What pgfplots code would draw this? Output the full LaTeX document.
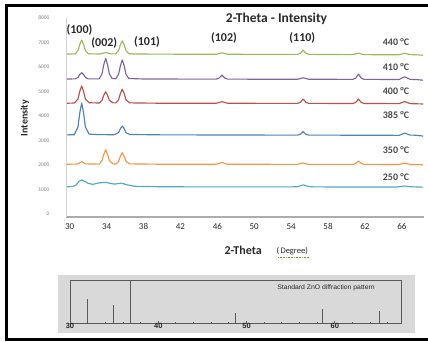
\documentclass[border=0pt]{standalone}
\usepackage{pgfplots}
\pgfplotsset{compat=1.18}
\usepackage{fontspec}
\setmainfont{Carlito}
\newfontfamily\arialf{Liberation Sans}
\definecolor{cTeal}{HTML}{4BACC6}
\definecolor{cOrange}{HTML}{F79646}
\definecolor{cBlue}{HTML}{4F81BD}
\definecolor{cRed}{HTML}{C0504D}
\definecolor{cPurple}{HTML}{8064A2}
\definecolor{cGreen}{HTML}{9BBB59}
\definecolor{insetbg}{HTML}{D9D9D9}
\definecolor{insetln}{HTML}{5A5A5A}
\definecolor{txt}{HTML}{2A2A2A}
\begin{document}
\begin{tikzpicture}
\useasboundingbox (0pt,0pt) rectangle (428pt,-341pt);
\fill[white] (0pt,0pt) rectangle (428pt,-341pt);
% main XRD axis
\begin{axis}[at={(66pt,-216.9pt)}, anchor=south west, scale only axis,
  width=358pt, height=198.9pt,
  xmin=29.6, xmax=68.4, ymin=-120, ymax=8000,
  axis x line*=bottom, axis y line*=left,
  x axis line style={-, draw=gray!65, line width=1.6pt},
  y axis line style={-, draw=gray!35, line width=0.6pt},
  xtick={30,34,...,66}, ytick={0,1000,...,8000},
  major tick length=0pt,
  /pgf/number format/assume math mode=true,
  /pgf/number format/1000 sep={},
  xticklabel style={font=\fontsize{9}{10}\selectfont, text=txt, yshift=-3pt},
  yticklabel style={font=\fontsize{5.5}{6}\selectfont, text=gray, xshift=-13pt},
  clip=false,
  every axis plot/.append style={line width=1.15pt, no marks, line join=round}]
% 250 C
\addplot[cTeal] coordinates {(29.7,1110)(30.3,1120)(30.7,1180)(31.0,1330)(31.3,1390)(31.6,1340)(32.0,1250)(32.5,1210)(33.2,1270)(33.9,1290)(34.5,1240)(34.9,1220)(35.6,1260)(36.2,1190)(37.0,1130)(40,1110)(46,1105)(54,1105)(54.7,1115)(55.3,1190)(55.9,1120)(56.5,1105)(62,1100)(65.5,1100)(66.3,1140)(67,1110)(68.3,1095)};
% 350 C
\addplot[cOrange] coordinates {(29.7,2030)(30.6,2035)(30.9,2045)(31.3,2135)(31.7,2045)(33.2,2035)(33.5,2177)(33.7,2443)(33.9,2620)(34.1,2443)(34.3,2177)(34.7,2045)(35.0,2040)(35.3,2147)(35.5,2360)(35.7,2500)(35.9,2360)(36.1,2147)(36.5,2045)(40,2030)(45,2030)(45.9,2030)(46.5,2100)(47.1,2030)(54,2025)(54.7,2025)(55.3,2080)(55.9,2025)(60.5,2025)(60.7,2025)(61.0,2060)(61.3,2160)(61.6,2060)(61.9,2025)(65.5,2020)(65.7,2020)(66.3,2075)(66.9,2020)(68.3,2010)};
% 385 C
\addplot[cBlue] coordinates {(29.7,3230)(30.5,3235)(30.9,3555)(31.1,4140)(31.3,4530)(31.5,4140)(31.7,3555)(32.1,3260)(33.0,3240)(34.8,3235)(35.3,3320)(35.5,3482)(35.7,3590)(35.9,3482)(36.1,3320)(36.5,3245)(40,3230)(46,3225)(52,3220)(54.7,3220)(55.0,3255)(55.3,3360)(55.6,3255)(55.9,3220)(61,3215)(65.5,3210)(65.7,3210)(66.3,3300)(66.9,3220)(67.5,3215)(68.3,3180)};
% 400 C
\addplot[cRed] coordinates {(29.7,4520)(30.5,4530)(30.9,4696)(31.1,5014)(31.3,5225)(31.5,5014)(31.7,4696)(32.1,4540)(33.2,4530)(33.5,4637)(33.7,4850)(33.9,4990)(34.1,4850)(34.3,4637)(34.7,4535)(35.0,4535)(35.3,4662)(35.5,4920)(35.7,5090)(35.9,4920)(36.1,4662)(36.5,4535)(40,4520)(44,4520)(45.9,4520)(46.5,4585)(47.1,4520)(52,4515)(54.7,4515)(55.0,4560)(55.3,4690)(55.6,4560)(55.9,4515)(60.5,4510)(60.7,4510)(61.0,4555)(61.3,4690)(61.6,4555)(61.9,4510)(65.5,4505)(65.7,4505)(66.3,4590)(66.9,4505)(68.3,4490)};
% 410 C
\addplot[cPurple] coordinates {(29.7,5510)(30.6,5515)(30.9,5575)(31.1,5690)(31.3,5770)(31.5,5690)(31.7,5575)(32.0,5515)(33.2,5515)(33.5,5720)(33.7,6100)(33.9,6350)(34.1,6100)(34.3,5720)(34.6,5530)(35.0,5520)(35.3,5705)(35.5,6055)(35.7,6290)(35.9,6055)(36.1,5705)(36.4,5530)(38,5510)(44,5505)(45.9,5505)(46.2,5550)(46.5,5670)(46.8,5550)(47.1,5505)(52,5500)(54.7,5500)(55.3,5560)(55.9,5500)(60.5,5495)(60.7,5495)(61.0,5550)(61.3,5710)(61.6,5550)(61.9,5495)(65.5,5490)(65.7,5490)(66.3,5600)(66.9,5495)(67.5,5490)(68.3,5460)};
% 440 C
\addplot[cGreen] coordinates {(29.7,6530)(30.5,6535)(30.6,6530)(30.9,6673)(31.1,6929)(31.3,7100)(31.5,6929)(31.7,6673)(32.0,6540)(33.3,6530)(33.9,6590)(34.5,6535)(35.0,6535)(35.3,6670)(35.5,6908)(35.7,7070)(35.9,6908)(36.1,6670)(36.4,6545)(37,6530)(40,6525)(44,6520)(45.9,6520)(46.5,6580)(47.1,6520)(50,6515)(54,6515)(54.7,6515)(55.0,6560)(55.3,6690)(55.6,6560)(55.9,6515)(58,6510)(60.7,6505)(61.3,6560)(61.9,6505)(64,6500)(65.7,6500)(66.3,6560)(66.9,6505)(67.5,6500)(68.3,6480)};
\end{axis}
% texts of main chart
\node[font=\fontsize{13.5}{15}\selectfont\bfseries, text=txt] at (276.5pt,-18.5pt) {2-Theta - Intensity};
\begin{scope}[every node/.style={font=\fontsize{12}{13}\selectfont\bfseries, text=txt}]
\node at (79.5pt,-30pt) {(100)};
\node at (104.3pt,-42.7pt) {(002)};
\node at (147pt,-42pt) {(101)};
\node at (224pt,-37.7pt) {(102)};
\node at (302.3pt,-37.7pt) {(110)};
\end{scope}
\begin{scope}[every node/.style={font=\fontsize{10}{11}\selectfont\bfseries, text=txt!85}]
\node at (396pt,-41.7pt) {440 °C};
\node at (396pt,-66.7pt) {410 °C};
\node at (396pt,-90.7pt) {400 °C};
\node at (396pt,-115pt) {385 °C};
\node at (396pt,-150pt) {350 °C};
\node at (396pt,-177.3pt) {250 °C};
\end{scope}
\node[rotate=90, font=\fontsize{10}{11}\selectfont\bfseries, text=txt] at (25pt,-118pt) {Intensity};
\node[font=\fontsize{12}{13}\selectfont\bfseries, text=txt, anchor=west] at (221pt,-250.7pt) {2-Theta};
\node[font=\fontsize{8.5}{9}\selectfont, text=txt, anchor=west] at (273pt,-251pt) {(\,Degree)};
\draw[cGreen!80!black, densely dotted, line width=0.6pt] (278pt,-257pt) -- (309pt,-257pt);
% inset background
\fill[insetbg] (58pt,-275pt) rectangle (415pt,-333.3pt);
% standard pattern inset
\begin{axis}[at={(70pt,-323pt)}, anchor=south west, scale only axis,
  width=331pt, height=43pt,
  xmin=30, xmax=67.5, ymin=0, ymax=1,
  axis line style={draw=insetln, line width=0.9pt},
  xtick={30,40,50,60}, ytick=\empty,
  minor xtick={32,34,...,66},
  major tick length=2pt, minor tick length=1.5pt,
  tick style={draw=insetln, line width=0.9pt},
  xtick pos=bottom,
  /pgf/number format/assume math mode=true,
  xticklabel style={font=\arialf\fontsize{7.5}{8}\selectfont\bfseries, text=black!85, yshift=3.5pt},
  clip=false]
\addplot[ycomb, draw=insetln, line width=1pt, no marks] coordinates {(32.0,0.56)(34.9,0.42)(36.8,1)(48.8,0.24)(58.6,0.33)(65.1,0.29)};
\end{axis}
\node[font=\arialf\fontsize{6.5}{7}\selectfont, text=black!85, xscale=1.05] at (326pt,-288pt) {Standard ZnO diffraction pattern};
% outer frame
\draw[black, line width=3pt] (6.5pt,-50pt) -- (6.5pt,-5pt) -- (440pt,-5pt);
\draw[black, line width=3pt] (6.5pt,-40pt) -- (6.5pt,-339.5pt) -- (440pt,-339.5pt);
\end{tikzpicture}
\end{document}
